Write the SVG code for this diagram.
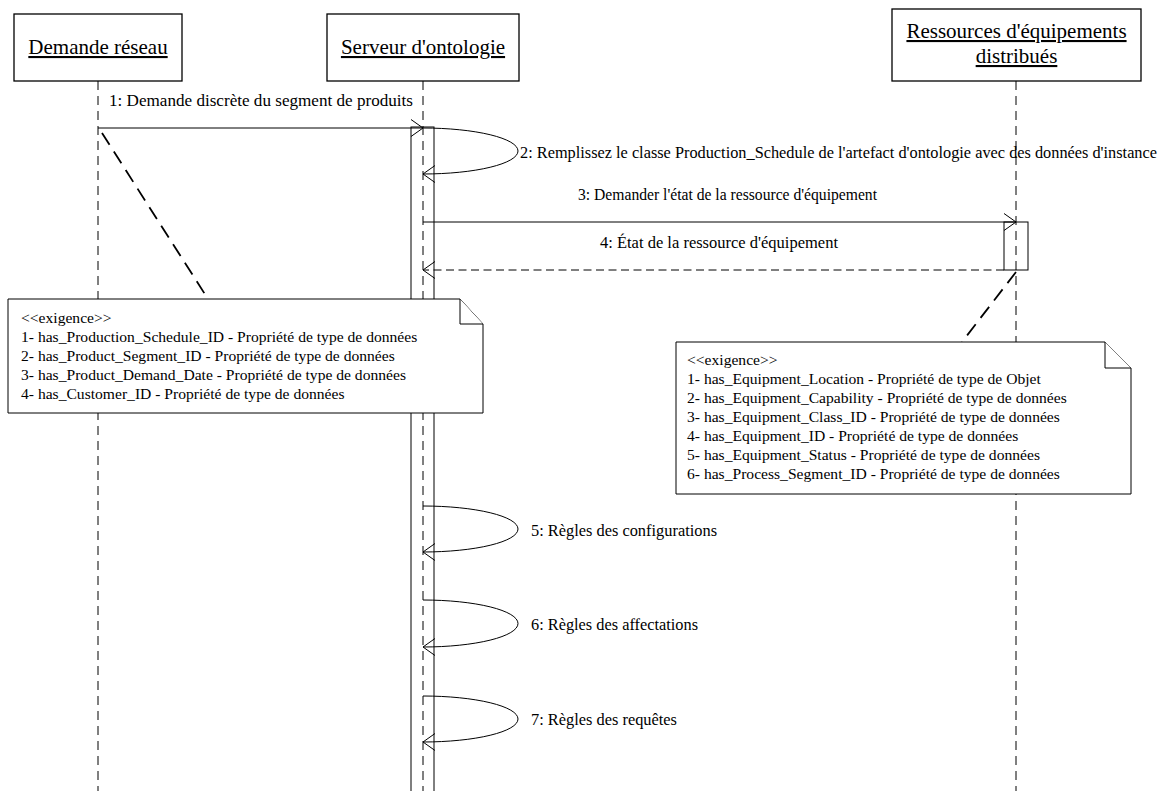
<svg xmlns="http://www.w3.org/2000/svg" width="1165" height="791" viewBox="0 0 1165 791">
<style>
.bg{fill:#fff}
.box{fill:#fff;stroke:#000;stroke-width:1.3}
.hdr{font-family:"Liberation Serif","Times New Roman",serif;font-size:21px;fill:#000;text-anchor:middle;text-decoration:underline}
.life{stroke:#000;stroke-width:1;stroke-dasharray:9 6;fill:none}
.act{fill:none;stroke:#000;stroke-width:1}
.msg{stroke:#000;stroke-width:1;fill:none}
.ret{stroke:#000;stroke-width:1;fill:none;stroke-dasharray:8 4.5}
.anchor{stroke:#000;stroke-width:1.8;fill:none;stroke-dasharray:14 8}
.lbl{font-family:"Liberation Serif","Times New Roman",serif;font-size:17.5px;fill:#000}
.note{fill:#fff;stroke:#000;stroke-width:1}
.nt{font-family:"Liberation Serif","Times New Roman",serif;font-size:15.6px;fill:#000}
</style>
<defs>
<marker id="open" markerUnits="userSpaceOnUse" viewBox="0 0 14 20" markerWidth="14" markerHeight="20" refX="12.5" refY="9" orient="auto">
<path d="M0.5,0.5 L12.5,9 L0.5,17.5" fill="none" stroke="#000" stroke-width="1" stroke-dasharray="none"/>
</marker>
</defs>
<rect class="bg" x="0" y="0" width="1165" height="791"/>

<g id="lifelines">
<line class="life" x1="98" y1="81" x2="98" y2="791"/>
<line class="life" x1="423" y1="81" x2="423" y2="791"/>
<line class="life" x1="1016" y1="81" x2="1016" y2="791"/>
</g>

<g id="activations">
<rect class="act" x="411" y="127" width="23" height="670"/>
<rect class="act" x="1004" y="222" width="24" height="48"/>
</g>

<g id="node-demande">
<rect class="box" x="14" y="14" width="168" height="67"/>
<text class="hdr" x="98" y="54">Demande réseau</text>
</g>
<g id="node-serveur">
<rect class="box" x="327" y="14" width="192" height="67"/>
<text class="hdr" x="423" y="54">Serveur d'ontologie</text>
</g>
<g id="node-ressources">
<rect class="box" x="892" y="9" width="249" height="72"/>
<text class="hdr" x="1016.5" y="38">Ressources d'équipements</text>
<text class="hdr" x="1016.5" y="63">distribués</text>
</g>

<g id="connectors">
<line class="msg" x1="98" y1="128" x2="423" y2="128" marker-end="url(#open)"/>
<path class="msg" d="M423,128 A95,23 0 0 1 423,174" marker-end="url(#open)"/>
<line class="msg" x1="423" y1="222" x2="1016" y2="222" marker-end="url(#open)"/>
<line class="ret" x1="1004" y1="270" x2="423" y2="270" marker-end="url(#open)"/>
<path class="msg" d="M423,506 A95,23 0 0 1 423,552" marker-end="url(#open)"/>
<path class="msg" d="M423,600 A95,23.5 0 0 1 423,647" marker-end="url(#open)"/>
<path class="msg" d="M423,696 A95,23 0 0 1 423,742" marker-end="url(#open)"/>
<line class="anchor" x1="102" y1="133" x2="208" y2="299"/>
<line class="anchor" x1="1016" y1="272" x2="962" y2="342"/>
</g>

<g id="labels">
<text class="lbl" x="109" y="106" textLength="304" lengthAdjust="spacingAndGlyphs">1: Demande discrète du segment de produits</text>
<text class="lbl" x="520" y="158" textLength="637" lengthAdjust="spacingAndGlyphs">2: Remplissez le classe Production_Schedule de l'artefact d'ontologie avec des données d'instance</text>
<text class="lbl" x="578" y="200" textLength="299" lengthAdjust="spacingAndGlyphs">3: Demander l'état de la ressource d'équipement</text>
<text class="lbl" x="600" y="248" textLength="238" lengthAdjust="spacingAndGlyphs">4: État de la ressource d'équipement</text>
<text class="lbl" x="531" y="536" textLength="186" lengthAdjust="spacingAndGlyphs">5: Règles des configurations</text>
<text class="lbl" x="531" y="630" textLength="167" lengthAdjust="spacingAndGlyphs">6: Règles des affectations</text>
<text class="lbl" x="531" y="725" textLength="146" lengthAdjust="spacingAndGlyphs">7: Règles des requêtes</text>
</g>

<g id="note-demande">
<path class="note" d="M8,299 H460 L483,324 V413 H8 Z"/>
<path class="note" d="M460,299 V324 H483"/>
<text class="nt" x="21" y="323">&lt;&lt;exigence&gt;&gt;</text>
<text class="nt" x="21" y="342">1- has_Production_Schedule_ID - Propriété de type de données</text>
<text class="nt" x="21" y="361">2- has_Product_Segment_ID - Propriété de type de données</text>
<text class="nt" x="21" y="380">3- has_Product_Demand_Date - Propriété de type de données</text>
<text class="nt" x="21" y="399">4- has_Customer_ID - Propriété de type de données</text>
</g>

<g id="note-ressources">
<path class="note" d="M676,342 H1105 L1131,368 V494 H676 Z"/>
<path class="note" d="M1105,342 V368 H1131"/>
<text class="nt" x="687" y="365">&lt;&lt;exigence&gt;&gt;</text>
<text class="nt" x="687" y="384">1- has_Equipment_Location - Propriété de type de Objet</text>
<text class="nt" x="687" y="403">2- has_Equipment_Capability - Propriété de type de données</text>
<text class="nt" x="687" y="422">3- has_Equipment_Class_ID - Propriété de type de données</text>
<text class="nt" x="687" y="441">4- has_Equipment_ID - Propriété de type de données</text>
<text class="nt" x="687" y="460">5- has_Equipment_Status - Propriété de type de données</text>
<text class="nt" x="687" y="479">6- has_Process_Segment_ID - Propriété de type de données</text>
</g>
</svg>
